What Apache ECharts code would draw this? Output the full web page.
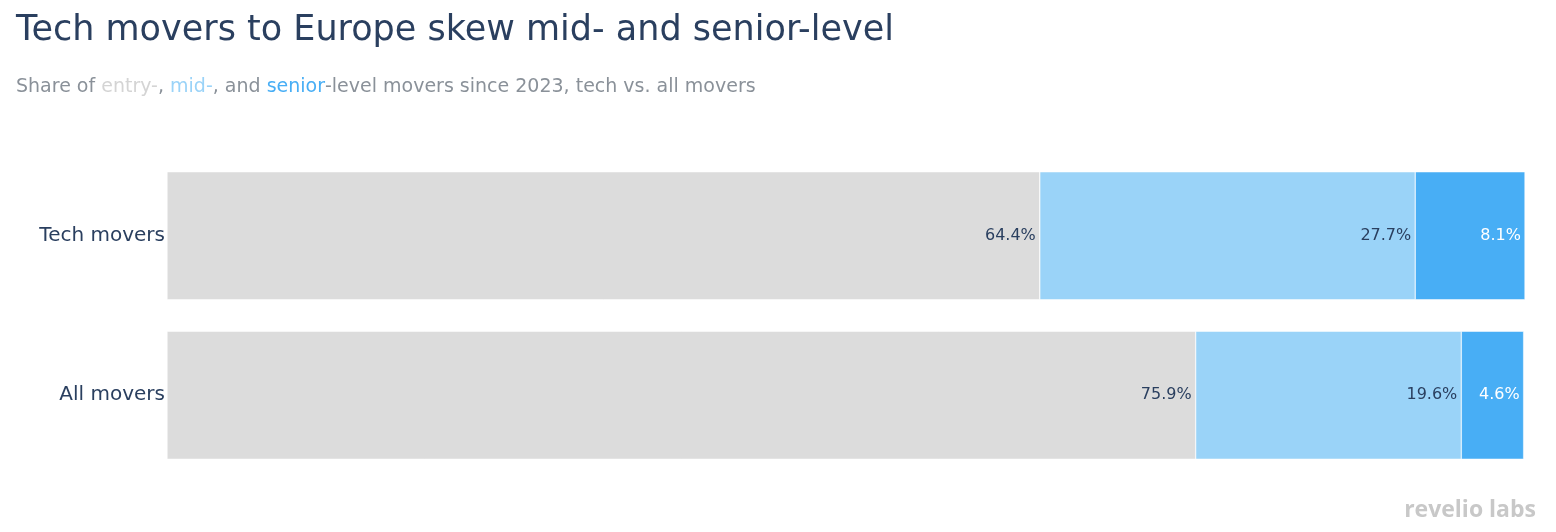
<!DOCTYPE html>
<html><head><meta charset="utf-8">
<script src="https://cdn.jsdelivr.net/npm/echarts@6/dist/echarts.min.js"></script>
<style>html,body{margin:0;padding:0;background:#fff}#c{width:1556px;height:532px}</style>
</head><body><div id="c"></div>
<script>
var categories = ['All movers', 'Tech movers'];
var entryLevel = [75.9, 64.4];
var midLevel = [19.6, 27.7];
var seniorLevel = [4.6, 8.1];
var seriesNames = ['Entry', 'Mid', 'Senior'];
var colors = ['#dcdcdc', '#9ad3f8', '#48aef5'];
var labelColors = ['#2a3f5f', '#2a3f5f', '#ffffff'];
var FONT = 'DejaVu Sans';

var chart = echarts.init(document.getElementById('c'));
function makeSeries(name, data, i) {
    return {
        name: name, type: 'bar', stack: 'share', data: data, barWidth: 128,
        itemStyle: { color: colors[i], borderColor: '#fff', borderWidth: 0.5 },
        label: {
            show: true, position: 'insideRight', distance: 4,
            formatter: function(p) { return p.value.toFixed(1) + '%'; },
            color: labelColors[i], fontSize: 16, fontFamily: FONT
        }
    };
}
chart.setOption({
    textStyle: { fontFamily: FONT },
    title: {
        left: 11, top: 8,
        text: 'Tech movers to Europe skew mid- and senior-level',
        textStyle: { fontSize: 35, fontWeight: 'normal', color: '#2a3f5f', fontFamily: FONT },
        subtext: '{g|Share of }{e|entry-}{g|, }{m|mid-}{g|, and }{s|senior}{g|-level movers since 2023, tech vs. all movers}',
        itemGap: 30,
        subtextStyle: {
            fontSize: 19,
            rich: {
                g: { fontSize: 19, color: '#8a9199', fontFamily: FONT },
                e: { fontSize: 19, color: '#d4d4d4', fontFamily: FONT },
                m: { fontSize: 19, color: '#9ad3f8', fontFamily: FONT },
                s: { fontSize: 19, color: '#48aef5', fontFamily: FONT }
            }
        }
    },
    graphic: [{
        type: 'text', right: 20, bottom: 10,
        style: { text: 'revelio labs', fontSize: 23, fontWeight: 'bold', fill: '#c8c8c8', fontFamily: 'Open Sans' }
    }],
    grid: { left: 167, right: 31, top: 156, bottom: 57 },
    xAxis: { type: 'value', min: 0, max: 'dataMax', show: false },
    yAxis: {
        type: 'category', data: categories,
        axisLine: { show: false }, axisTick: { show: false },
        axisLabel: { fontSize: 20, color: '#2a3f5f', margin: 2, fontFamily: FONT }
    },
    series: [
        makeSeries(seriesNames[0], entryLevel, 0),
        makeSeries(seriesNames[1], midLevel, 1),
        makeSeries(seriesNames[2], seniorLevel, 2)
    ]
});
</script></body></html>
